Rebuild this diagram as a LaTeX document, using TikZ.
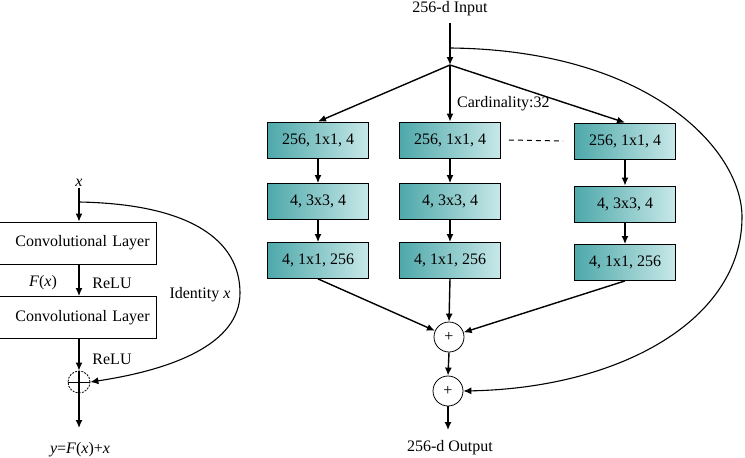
\documentclass[tikz,border=0pt]{standalone}
\usepackage{fontspec}
\setmainfont{Liberation Serif}
\usepackage{tikz}
\usetikzlibrary{arrows.meta}
\definecolor{tealdark}{RGB}{78,168,170}
\definecolor{teallight}{RGB}{200,232,232}

\tikzset{
  >={Latex[length=8pt,width=7pt]},
  conv/.style={draw,line width=0.8pt,anchor=east,text width=150pt,align=right,
    inner xsep=7pt,minimum height=42pt,font=\fontsize{16}{19}\selectfont},
  grp/.style={draw,line width=0.8pt,left color=tealdark,right color=teallight,
    minimum width=101pt,minimum height=36pt,inner sep=0pt,font=\fontsize{16}{19}\selectfont},
  plus/.style={draw,circle,line width=0.8pt,minimum size=30pt,inner sep=0pt,font=\fontsize{16}{19}\selectfont},
  lbl/.style={inner sep=1pt,font=\fontsize{16}{19}\selectfont},
  flow/.style={->,line width=1.4pt},
  skip/.style={->,line width=1.1pt}
}

\begin{document}
\begin{tikzpicture}[x=1pt,y=-1pt]
\useasboundingbox (0,0) rectangle (745,458);

% plain residual block
\node[lbl] (lx) at (79,183) {\textit{x}};
\coordinate (idstart) at (79,202);
\node[conv] (conv1) at (157,243) {Convolutional Layer};
\node[conv] (conv2) at (157,317.5) {Convolutional Layer};
\node[draw,circle,dashed,dash pattern=on 2pt off 1.2pt,line width=0.8pt,minimum size=22pt,inner sep=0pt] (sum0) at (79,382) {};
\coordinate (yout) at (79,428);
\draw[flow] (lx.south) -- (lx.south |- conv1.north);
\draw[flow] (conv1.south -| lx) -- (conv2.north -| lx);
\draw[flow] (conv2.south -| sum0) -- (sum0.north);
\draw[line width=0.8pt] (sum0.west) -- (sum0.east);
\draw[line width=1.2pt] (sum0.north) -- (sum0.south);
\draw[flow] (sum0.south) -- (yout);
\node[lbl] (fx) at (43,283) {\textit{F}(\textit{x})};
\node[lbl] (relu1) at (112,283) {ReLU};
\node[lbl] (relu2) at (112,359) {ReLU};
\node[lbl] (ident) at (200,295) {Identity \textit{x}};
\node[lbl] (yfx) at (80,450) {\textit{y}=\textit{F}(\textit{x})+\textit{x}};
\draw[skip] (idstart) .. controls (190,204) and (240,240) .. (240,293)
  .. controls (240,345) and (170,370) .. (sum0.east);

% aggregated transformations
\node[lbl] (inp) at (450,9) {256-d Input};
\coordinate (topin) at (450,23);
\coordinate (bigstart) at (450,48);
\coordinate (split) at (450,65);
\draw[flow] (topin) -- (split);

\node[grp] (a1) at (318,140) {256, 1x1, 4};
\node[grp] (a2) at (318,201.5) {4, 3x3, 4};
\node[grp] (a3) at (318,260.5) {4, 1x1, 256};
\node[grp] (b1) at (450,140) {256, 1x1, 4};
\node[grp] (b2) at (450,201.5) {4, 3x3, 4};
\node[grp] (b3) at (450,260.5) {4, 1x1, 256};
\node[grp] (c1) at (625,141) {256, 1x1, 4};
\node[grp] (c2) at (625,204) {4, 3x3, 4};
\node[grp] (c3) at (625,262.5) {4, 1x1, 256};

\draw[flow] (split) -- (a1.north);
\draw[flow] (split) -- (b1.north);
\draw[flow] (split) -- (c1.north);
\node[lbl,anchor=west] (card) at (456,104) {Cardinality:32};

\draw[flow] (a1) -- (a2);
\draw[flow] (a2) -- (a3);
\draw[flow] (b1) -- (b2);
\draw[flow] (b2) -- (b3);
\draw[flow] (c1) -- (c2);
\draw[flow] (c2) -- (c3);
\draw[line width=1pt,dash pattern=on 5pt off 4pt] ([xshift=8pt]b1.east) -- ([xshift=-11pt]c1.west);

\node[plus] (s1) at (449,337) {+};
\node[plus] (s2) at (448,391) {+};
\coordinate (outp) at (448,430);
\draw[flow] (a3.south) -- (s1);
\draw[flow] (b3.south) -- (s1.north);
\draw[flow] (c3.south) -- (s1);
\draw[flow] (s1.south) -- (s2.north);
\draw[flow] (s2.south) -- (outp);
\node[lbl] (outl) at (450,448) {256-d Output};
\draw[skip] (bigstart) .. controls (650,50) and (742,150) .. (742,217)
  .. controls (742,320) and (620,388) .. (s2.east);

\end{tikzpicture}
\end{document}
